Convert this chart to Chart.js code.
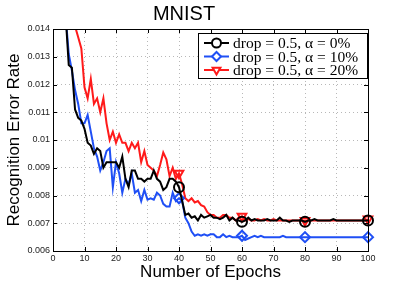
<!DOCTYPE html>
<html>
<head>
<meta charset="utf-8">
<script src="https://cdn.jsdelivr.net/npm/chart.js@4.4.1/dist/chart.umd.min.js"></script>
<style>
html, body { margin:0; padding:0; background:#fff; }
</style>
</head>
<body>
<canvas id="chartMnist" width="409" height="283"></canvas>
<script>
// epocas 1..100
const epocas = Array.from({length: 100}, (_, i) => i + 1)
const epocasMarcador = [40, 60, 80, 100]

const errAlpha0 = [
    0.0300, 0.0220, 0.0170, 0.0145, 0.0127, 0.0126, 0.0111, 0.0108, 0.0107, 0.0104,
    0.0099, 0.0098, 0.0095, 0.0097, 0.0096, 0.0090, 0.0092, 0.0092, 0.0092, 0.0092,
    0.0090, 0.0094, 0.0086, 0.0083, 0.0089, 0.0089, 0.0086, 0.0086, 0.0085, 0.0086,
    0.0086, 0.0089, 0.0086, 0.0085, 0.0082, 0.0083, 0.0086, 0.0086, 0.0085, 0.0083,
    0.0078, 0.0073, 0.00735, 0.0072, 0.00725, 0.0071, 0.0073, 0.0072, 0.00725, 0.0073,
    0.0072, 0.0072, 0.00715, 0.0072, 0.0073, 0.0071, 0.0072, 0.0071, 0.0071, 0.00705,
    0.0071, 0.0072, 0.0071, 0.00715, 0.0071, 0.0071, 0.0071, 0.00715, 0.0071, 0.0071,
    0.0071, 0.0072, 0.0071, 0.0071, 0.00705, 0.0071, 0.0071, 0.0071, 0.0071, 0.00705,
    0.0071, 0.0071, 0.00715, 0.0071, 0.0071, 0.0071, 0.0071, 0.0071, 0.00715, 0.0071,
    0.0071, 0.0071, 0.0071, 0.0071, 0.0071, 0.0071, 0.0071, 0.0071, 0.0071, 0.0071
]

const errAlpha10 = [
    0.0300, 0.0220, 0.0170, 0.0145, 0.0131, 0.0125, 0.0118, 0.0113, 0.0106, 0.0106,
    0.0109, 0.0103, 0.0097, 0.0094, 0.0089, 0.0092, 0.0096, 0.0097, 0.0083, 0.0092,
    0.0088, 0.0081, 0.0086, 0.0084, 0.0088, 0.0081, 0.0082, 0.0078, 0.0082, 0.00785,
    0.0079, 0.00785, 0.0081, 0.0080, 0.0077, 0.0076, 0.0076, 0.0081, 0.0078, 0.0079,
    0.0078, 0.0072, 0.0070, 0.0067, 0.00655, 0.0066, 0.00655, 0.0066, 0.00655, 0.0066,
    0.0066, 0.0065, 0.0065, 0.0066, 0.0065, 0.00655, 0.0065, 0.0065, 0.0065, 0.00655,
    0.0064, 0.00645, 0.0065, 0.00655, 0.0065, 0.00655, 0.0065, 0.0065, 0.0065, 0.0065,
    0.0065, 0.0065, 0.00655, 0.0065, 0.0065, 0.0065, 0.0065, 0.0065, 0.0065, 0.0065,
    0.0065, 0.0065, 0.0065, 0.0065, 0.0065, 0.0065, 0.0065, 0.0065, 0.0065, 0.0065,
    0.0065, 0.0065, 0.0065, 0.0065, 0.0065, 0.0065, 0.0065, 0.0065, 0.0065, 0.0065
]

const errAlpha20 = [
    0.0350, 0.0260, 0.0200, 0.0170, 0.0155, 0.0148, 0.0141, 0.0137, 0.0133, 0.0119,
    0.0115, 0.0122, 0.0113, 0.0115, 0.0110, 0.0115, 0.0106, 0.0100, 0.0103, 0.0099,
    0.0102, 0.0099, 0.0099, 0.0096, 0.0099, 0.0097, 0.0099, 0.0092, 0.0096, 0.0091,
    0.0090, 0.0089, 0.0087, 0.0091, 0.00955, 0.0093, 0.0087, 0.0090, 0.0086, 0.0088,
    0.0084, 0.0079, 0.0078, 0.0079, 0.00775, 0.0078, 0.00765, 0.0076, 0.0074, 0.0073,
    0.0073, 0.0072, 0.0072, 0.0073, 0.0073, 0.0072, 0.0072, 0.0071, 0.0072, 0.00725,
    0.0071, 0.00715, 0.0071, 0.0071, 0.00715, 0.0071, 0.00715, 0.0071, 0.0071, 0.00715,
    0.0071, 0.0071, 0.0071, 0.0071, 0.0071, 0.0071, 0.0071, 0.0071, 0.0071, 0.0071,
    0.0071, 0.0071, 0.0071, 0.0071, 0.0071, 0.0071, 0.0071, 0.0071, 0.0071, 0.0071,
    0.0071, 0.0071, 0.0071, 0.0071, 0.0071, 0.0071, 0.0071, 0.0071, 0.0071, 0.00715
]

const etiquetas = ['drop = 0.5, \u03b1 = 0%', 'drop = 0.5, \u03b1 = 10%', 'drop = 0.5, \u03b1 = 20%']
const colores = ['#000000', '#1f4ff5', '#ff1a1a']
const estilos = ['circle', 'rectRot', 'triangle']
const rotaciones = [0, 0, 180]

const sans = 'Liberation Sans, Arial, sans-serif'

const serie = (valores, i) => ({
    label : etiquetas[i],
    data : valores.map((v, k) => ({ x : epocas[k], y : v })),
    borderColor : colores[i],
    borderWidth : 2,
    pointStyle : estilos[i],
    pointRotation : rotaciones[i],
    pointRadius : ctx => epocasMarcador.includes(epocas[ctx.dataIndex]) ? 5 : 0,
    pointBorderWidth : 2,
    pointBorderColor : colores[i],
    pointBackgroundColor : 'rgba(0,0,0,0)',
    pointHoverRadius : 0,
    tension : 0,
    clip : { left : 0, top : 0, right : false, bottom : false }
})

// marco negro con marcas hacia dentro y leyenda dentro del area
const marcoLeyenda = {
    id : 'marcoLeyenda',
    afterDatasetsDraw(chart) {
        const { ctx, chartArea : a, scales } = chart
        ctx.save()
        ctx.strokeStyle = '#000'
        ctx.lineWidth = 1
        ctx.setLineDash([])
        ctx.strokeRect(a.left + 0.5, a.top + 0.5, a.right - a.left, a.bottom - a.top)
        ctx.beginPath()
        scales.x.ticks.forEach(t => {
            const px = Math.round(scales.x.getPixelForValue(t.value)) + 0.5
            ctx.moveTo(px, a.bottom); ctx.lineTo(px, a.bottom - 4)
            ctx.moveTo(px, a.top); ctx.lineTo(px, a.top + 4)
        })
        scales.y.ticks.forEach(t => {
            const py = Math.round(scales.y.getPixelForValue(t.value)) + 0.5
            ctx.moveTo(a.left, py); ctx.lineTo(a.left + 4, py)
            ctx.moveTo(a.right, py); ctx.lineTo(a.right - 4, py)
        })
        ctx.stroke()
        ctx.restore()
    },
    afterDraw(chart) {
        const { ctx } = chart
        const x0 = 198, y0 = 33, w = 169, h = 45
        ctx.save()
        ctx.fillStyle = '#fff'
        ctx.fillRect(x0, y0, w, h)
        ctx.strokeStyle = '#000'
        ctx.lineWidth = 1
        ctx.strokeRect(x0 + 0.5, y0 + 0.5, w, h)
        etiquetas.forEach((txt, i) => {
            const yy = y0 + 10 + i * 13.5
            ctx.strokeStyle = colores[i]
            ctx.lineWidth = 2
            ctx.beginPath()
            ctx.moveTo(204, yy); ctx.lineTo(229, yy)
            ctx.stroke()
            ctx.fillStyle = '#fff'
            Chart.helpers.drawPoint(ctx, {
                pointStyle : estilos[i], rotation : rotaciones[i], radius : 4.5, borderWidth : 2
            }, 216.5, yy)
            ctx.fillStyle = '#000'
            ctx.font = '15.5px "Liberation Serif", "DejaVu Serif", serif'
            ctx.textBaseline = 'middle'
            ctx.textAlign = 'left'
            ctx.fillText(txt, 233, yy + 1)
        })
        ctx.restore()
    }
}

const canvas = document.getElementById('chartMnist')
const context = canvas.getContext('2d')

const chartMnist = new Chart(context, {
    type : 'line',
    data : {
        datasets : [ serie(errAlpha0, 0), serie(errAlpha10, 1), serie(errAlpha20, 2) ]
    },
    options : {
        responsive : false,
        animation : false,
        layout : { padding : { right : 41, left : 0, top : 0, bottom : 0 } },
        plugins : {
            legend : { display : false },
            tooltip : { enabled : false },
            title : {
                display : true,
                text : 'MNIST',
                color : '#000',
                font : { family : sans, size : 20, weight : 'normal' },
                padding : { top : 2, bottom : 3 }
            }
        },
        scales : {
            x : {
                type : 'linear',
                min : 0,
                max : 100,
                afterFit : s => { s.height = 32 },
                ticks : { stepSize : 10, color : '#222', font : { family : sans, size : 9 }, padding : 2, maxRotation : 0 },
                grid : { color : '#b8b8b8', drawTicks : false, lineWidth : 1 },
                border : { display : false, dash : [1, 3] },
                title : { display : true, text : 'Number of Epochs', color : '#000', font : { family : sans, size : 17 }, padding : { top : 0, bottom : 0 } }
            },
            y : {
                min : 0.006,
                max : 0.014,
                afterFit : s => { s.width = 53 },
                ticks : {
                    stepSize : 0.001, color : '#222', font : { family : sans, size : 9 }, padding : 3,
                    callback : v => String(parseFloat(v.toFixed(3)))
                },
                grid : { color : '#b8b8b8', drawTicks : false, lineWidth : 1 },
                border : { display : false, dash : [1, 3] },
                title : { display : true, text : 'Recognition Error Rate', color : '#000', font : { family : sans, size : 17 }, padding : { top : 4, bottom : 0 } }
            }
        }
    },
    plugins : [ marcoLeyenda ]
})
</script>
</body>
</html>
